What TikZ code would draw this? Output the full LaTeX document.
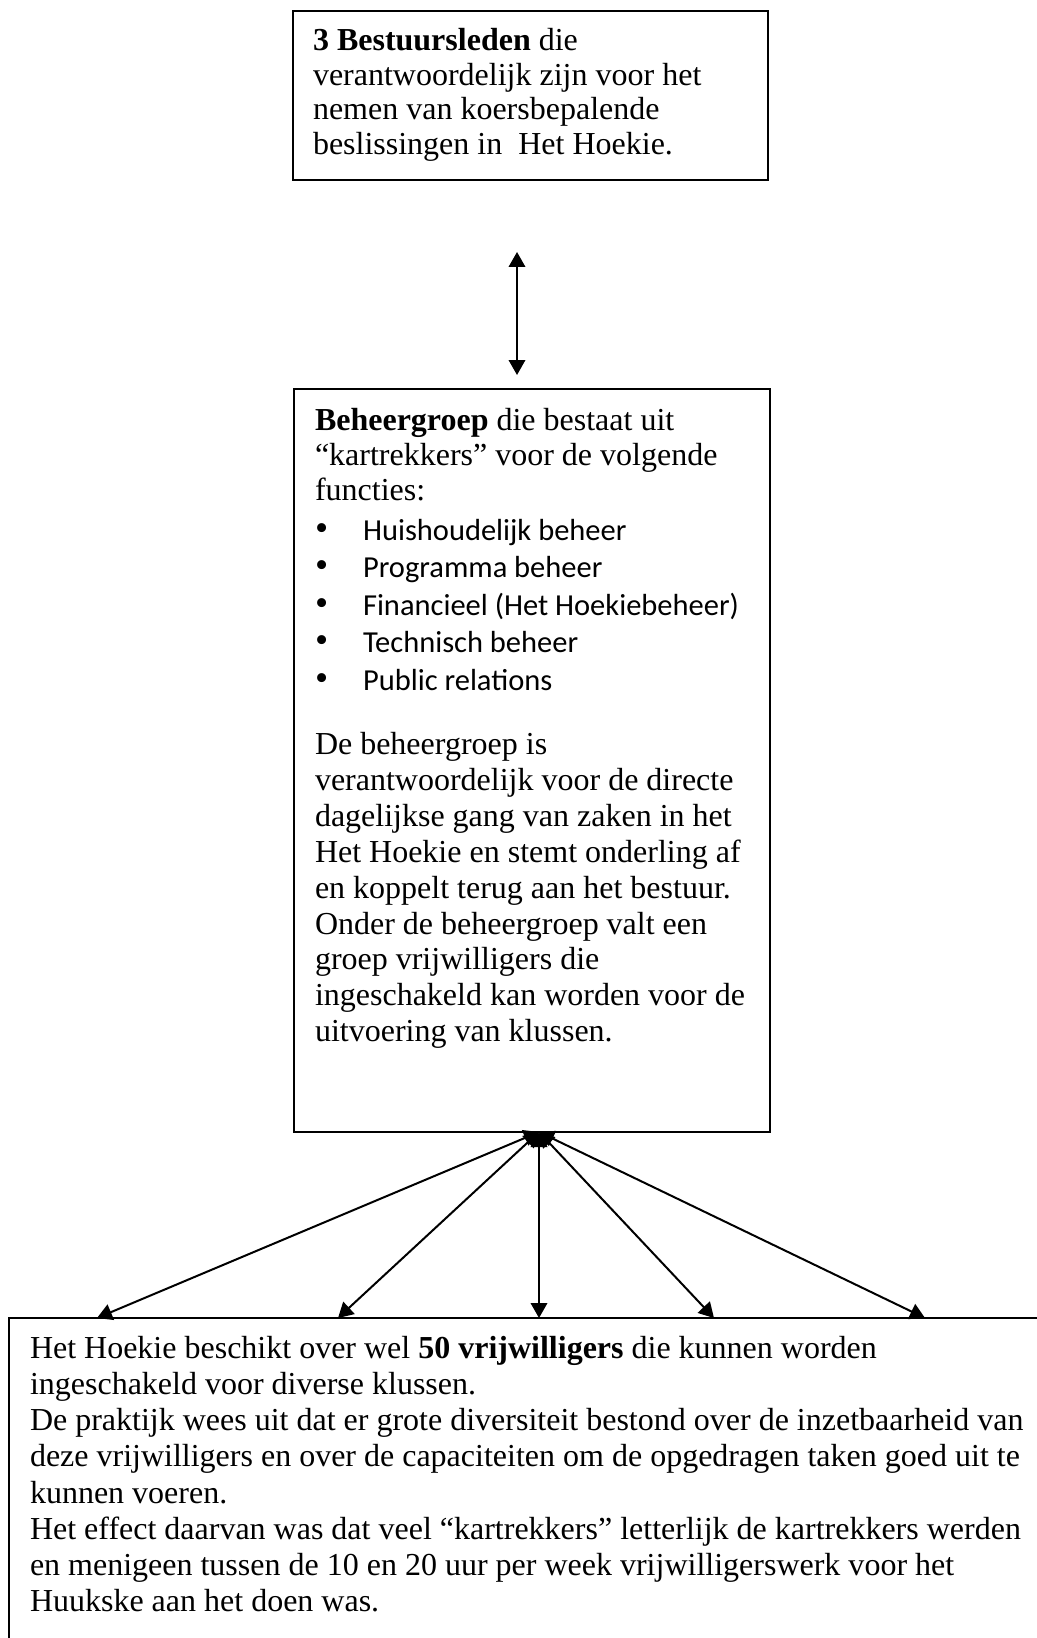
\documentclass[tikz,border=0pt]{standalone}
\usepackage{fontspec}
\setmainfont{Liberation Serif}
\newfontfamily\calibri{Carlito}
\usetikzlibrary{arrows.meta, calc}

\newcommand{\functie}[1]{\par\makebox[19.2pt][l]{\rmfamily\fontsize{15pt}{15pt}\selectfont\textbullet}#1}

\begin{document}
\begin{tikzpicture}[
    x=0.4pt, y=-0.4pt,
    box/.style={draw, line width=0.8pt, inner sep=0pt, outer sep=0pt, anchor=north west},
    pijl/.style={{Triangle[length=6pt,width=6.6pt]}-{Triangle[length=6pt,width=6.6pt]}, line width=0.8pt}
]
\path[use as bounding box, fill=white] (0,0) rectangle (1036,1638);
% Bestuur
\node[box] (bestuur) at (293,11) {\parbox[t][67.6pt][t]{190pt}{%
  \raggedright\leftskip=8pt\fontsize{12.8pt}{13.8pt}\selectfont
  \rule{0pt}{16pt}\textbf{3 Bestuursleden} die\\
  verantwoordelijk zijn voor het\\
  nemen van koersbepalende\\
  beslissingen in~ Het Hoekie.}};
% Beheergroep
\node[box] (beheer) at (294,389) {\parbox[t][297.2pt][t]{190.4pt}{%
  \raggedright\leftskip=8.4pt\fontsize{12.8pt}{14pt}\selectfont
  \rule{0pt}{16.4pt}\textbf{Beheergroep} die bestaat uit\\
  “kartrekkers” voor de volgende\\
  functies:\par
  {\calibri\fontsize{12.2pt}{15pt}\selectfont
  \vspace{1pt}
  \functie{Huishoudelijk beheer}
  \functie{Programma beheer}
  \functie{Financieel (Het Hoekiebeheer)}
  \functie{Technisch beheer}
  \functie{Public relations}\par}
  \vspace{11.5pt}
  {\fontsize{12.8pt}{14.35pt}\selectfont
  De beheergroep is\\
  verantwoordelijk voor de directe\\
  dagelijkse gang van zaken in het\\
  Het Hoekie en stemt onderling af\\
  en koppelt terug aan het bestuur.\\
  Onder de beheergroep valt een\\
  groep vrijwilligers die\\
  ingeschakeld kan worden voor de\\
  uitvoering van klussen.\par}}};
% Vrijwilligers
\node[box] (vrijw) at (9,1318) {\parbox[t][140pt][t]{424pt}{%
  \raggedright\leftskip=8.4pt\fontsize{12.8pt}{14.5pt}\selectfont
  \rule{0pt}{16pt}Het Hoekie beschikt over wel \textbf{50 vrijwilligers} die kunnen worden\\
  ingeschakeld voor diverse klussen.\\
  De praktijk wees uit dat er grote diversiteit bestond over de inzetbaarheid van\\
  deze vrijwilligers en over de capaciteiten om de opgedragen taken goed uit te\\
  kunnen voeren.\\
  Het effect daarvan was dat veel “kartrekkers” letterlijk de kartrekkers werden\\
  en menigeen tussen de 10 en 20 uur per week vrijwilligerswerk voor het\\
  Huukske aan het doen was.}};
% Bestuur <-> beheergroep
\coordinate (pijlboven) at (517,252);
\coordinate (pijlonder) at (517,375);
\draw[pijl] (pijlboven) -- (pijlonder);
% Beheergroep <-> vrijwilligers
\coordinate (knoop) at (539,1132);
\foreach \x [count=\i] in {97,338,539,714,925} {
  \coordinate (doel\i) at (\x,0 |- vrijw.north);
  \draw[pijl] (knoop) -- (doel\i);
}
\end{tikzpicture}
\end{document}
